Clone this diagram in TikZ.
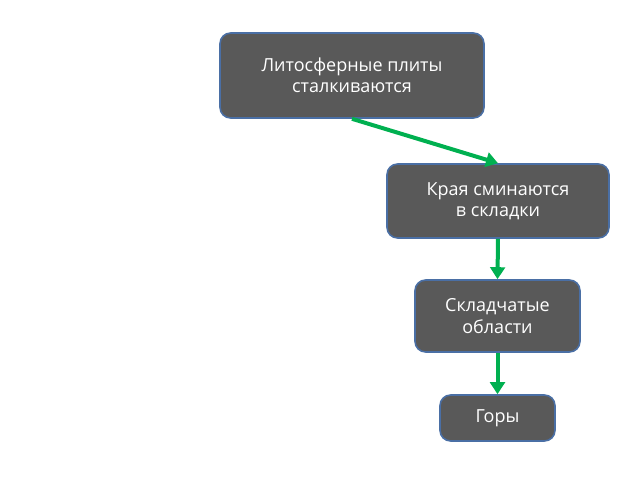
\documentclass[tikz,border=0pt]{standalone}
\usepackage{fontspec}
\setmainfont{Open Sans}
\usetikzlibrary{arrows.meta}
\definecolor{boxfill}{HTML}{595959}
\definecolor{boxline}{HTML}{4A6FA5}
\definecolor{arr}{HTML}{00B050}
\begin{document}
\begin{tikzpicture}[x=0.75pt,y=-0.75pt,
  box/.style={draw=boxline,line width=1.2pt,fill=boxfill,rounded corners=8pt,text=white,align=center,font=\fontsize{13.5}{16}\selectfont,inner sep=0pt},
  ar/.style={draw=arr,line width=3pt,-{Triangle[length=9pt,width=11pt]}}]
\useasboundingbox (0,0) rectangle (640,480);
\node[box,minimum width=264*0.75pt,minimum height=85*0.75pt] (a) at (352,75.5) {Литосферные плиты\\сталкиваются};
\node[box,minimum width=222*0.75pt,minimum height=74*0.75pt] (b) at (498,201) {Края сминаются\\в складки};
\node[box,minimum width=165*0.75pt,minimum height=72*0.75pt] (c) at (497.5,316) {Складчатые\\области};
\node[box,minimum width=115*0.75pt,minimum height=46*0.75pt] (d) at (497.5,418) {Горы};
\draw[ar] (a.south) -- (b.north);
\draw[ar] (b.south) -- (c.north);
\draw[ar] (c.south) -- (d.north);
\end{tikzpicture}
\end{document}
